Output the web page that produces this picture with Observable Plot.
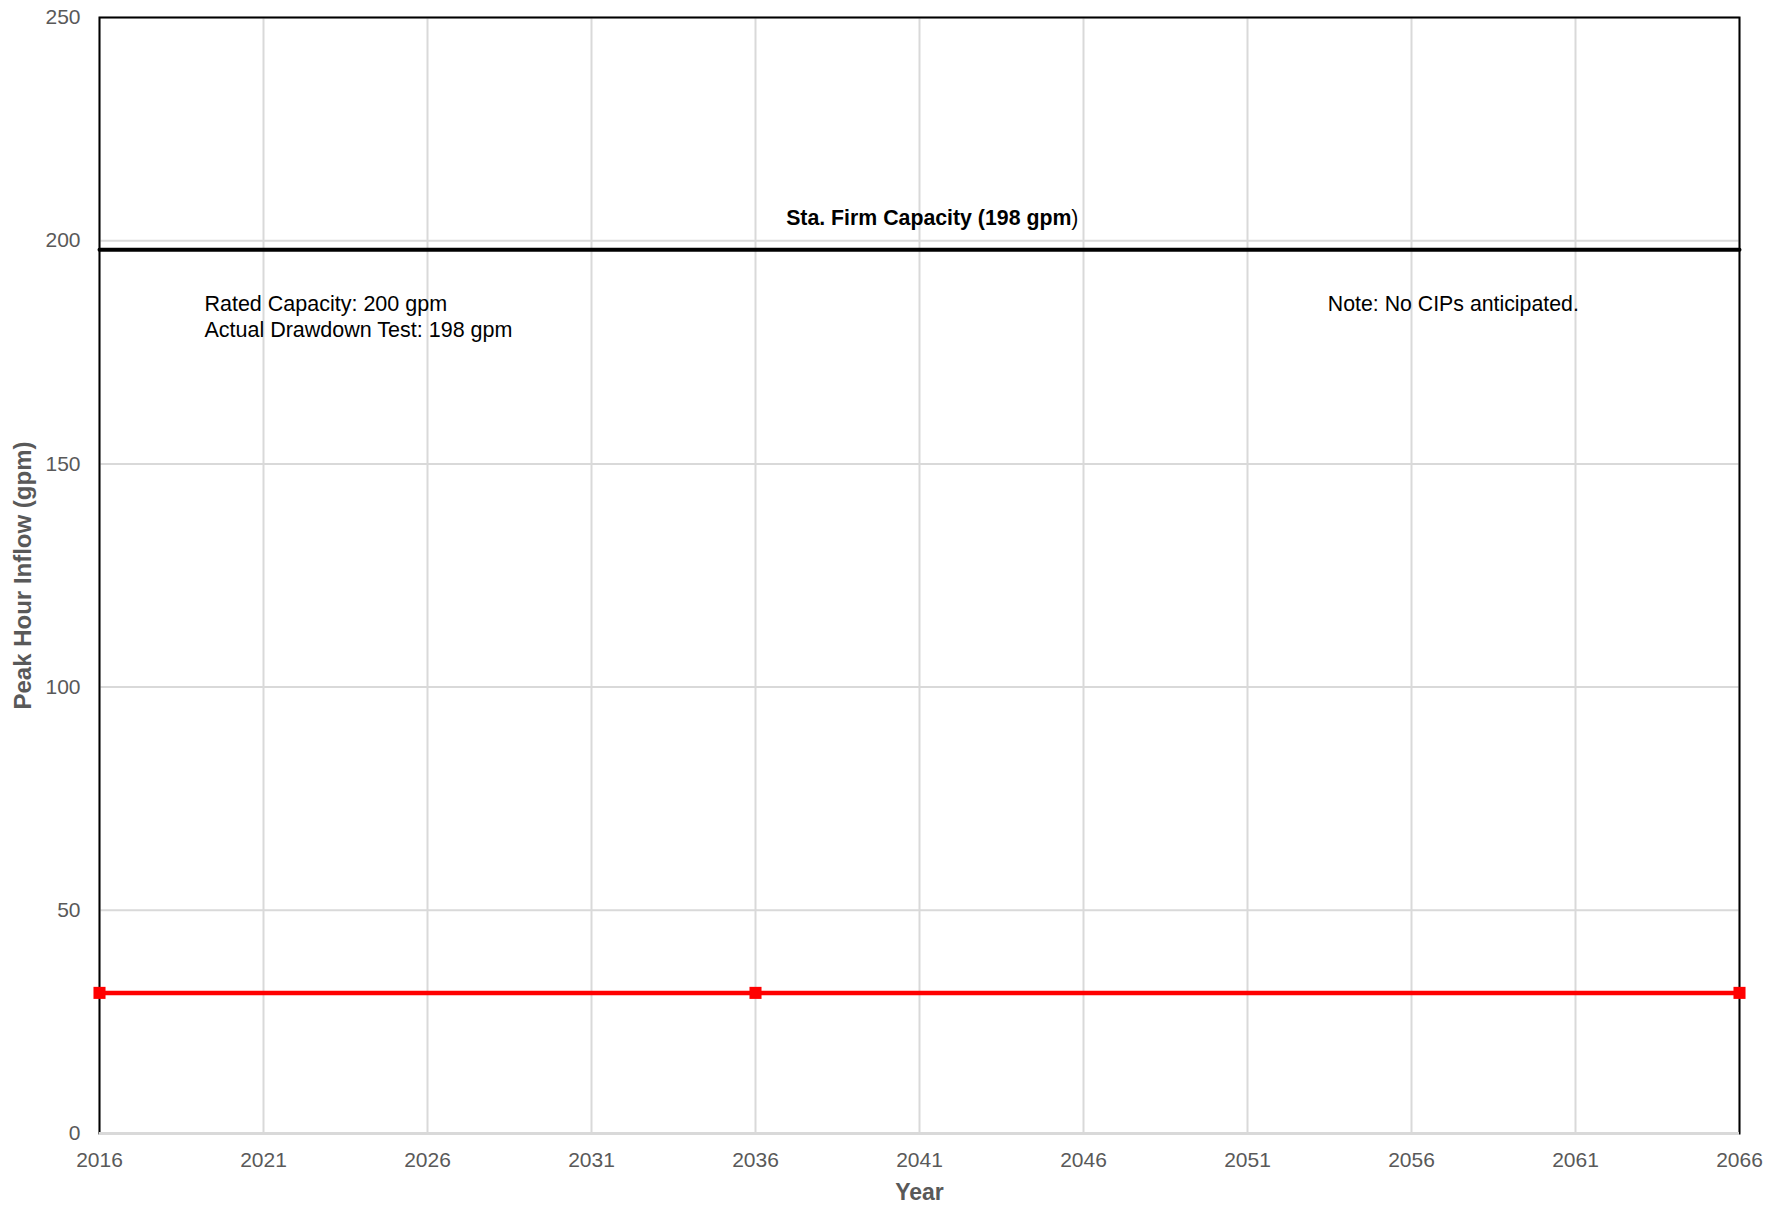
<!DOCTYPE html>
<html>
<head>
<meta charset="utf-8">
<script src="https://cdn.jsdelivr.net/npm/d3@7"></script>
<script src="https://cdn.jsdelivr.net/npm/@observablehq/plot@0.6"></script>
<style>
  html, body { margin: 0; padding: 0; background: #fff; }
  #chart svg { display: block; }
</style>
</head>
<body>
<div id="chart"></div>
<script>
// ---- Data ----
const inflowYears = [2016, 2036, 2066];
const inflowValues = [31.5, 31.5, 31.5];
const firmYears = [2016, 2066];
const firmValues = [198, 198];
const xTicks = [2016, 2021, 2026, 2031, 2036, 2041, 2046, 2051, 2056, 2061, 2066];
const yTicks = [0, 50, 100, 150, 200, 250];
const firmLabel = "Sta. Firm Capacity (198 gpm";
const firmLabelClose = ")";
const ratedNote = "Rated Capacity: 200 gpm\nActual Drawdown Test: 198 gpm";
const cipNote = "Note: No CIPs anticipated.";
const xLabel = "Year";
const yLabel = "Peak Hour Inflow (gpm)";

const inflow = inflowYears.map((y, i) => ({year: y, value: inflowValues[i]}));
const firm = firmYears.map((y, i) => ({year: y, value: firmValues[i]}));

const font = "Liberation Sans, Arial, Helvetica, sans-serif";
const gray = "#595959";
const grid = "#d9d9d9";

const chart = Plot.plot({
  width: 1782,
  height: 1207,
  marginLeft: 99,
  marginRight: 43,
  marginTop: 17,
  marginBottom: 74,
  style: {fontFamily: font, fontSize: "21px", color: gray, background: "#fff"},
  x: {domain: [2016, 2066]},
  y: {domain: [0, 250]},
  marks: [
    Plot.gridX(xTicks, {stroke: grid, strokeOpacity: 1, strokeWidth: 2}),
    Plot.gridY(yTicks, {stroke: grid, strokeOpacity: 1, strokeWidth: 2}),
    Plot.frame({stroke: "black", strokeWidth: 2}),
    Plot.ruleY([0], {stroke: grid, strokeWidth: 3}),
    Plot.axisX(xTicks, {tickSize: 0, tickPadding: 19, tickFormat: d => String(d), fill: gray, fontSize: 21, label: null}),
    Plot.axisY(yTicks, {tickSize: 0, tickPadding: 19, fill: gray, fontSize: 21, label: null}),
    Plot.line(firm, {x: "year", y: "value", stroke: "black", strokeWidth: 4}),
    Plot.line(inflow, {x: "year", y: "value", stroke: "#ff0000", strokeWidth: 4.5}),
    Plot.dot(inflow, {x: "year", y: "value", symbol: "square", r: 6.8, fill: "#ff0000", stroke: "none"}),
    Plot.text([firmLabel], {x: 2045.63, y: 203.6, text: d => d, textAnchor: "end", lineAnchor: "bottom", fontWeight: "bold", fill: "black", fontSize: 21.3}),
    Plot.text([firmLabelClose], {x: 2045.63, y: 203.6, text: d => d, textAnchor: "start", lineAnchor: "bottom", fill: "black", fontSize: 21.3}),
    Plot.text([ratedNote], {x: 2019.2, y: 188.2, text: d => d, textAnchor: "start", lineAnchor: "top", lineHeight: 1.18, fill: "black", fontSize: 21.5}),
    Plot.text([cipNote], {x: 2053.45, y: 187.6, text: d => d, textAnchor: "start", lineAnchor: "top", fill: "black", fontSize: 21.3}),
    Plot.text([xLabel], {frameAnchor: "bottom", dy: 59, text: d => d, lineAnchor: "middle", fontWeight: "bold", fill: gray, fontSize: 23}),
    Plot.text([yLabel], {frameAnchor: "left", dx: -76, rotate: -90, text: d => d, textAnchor: "middle", lineAnchor: "middle", fontWeight: "bold", fill: gray, fontSize: 24})
  ]
});
document.getElementById("chart").append(chart);
</script>
</body>
</html>
